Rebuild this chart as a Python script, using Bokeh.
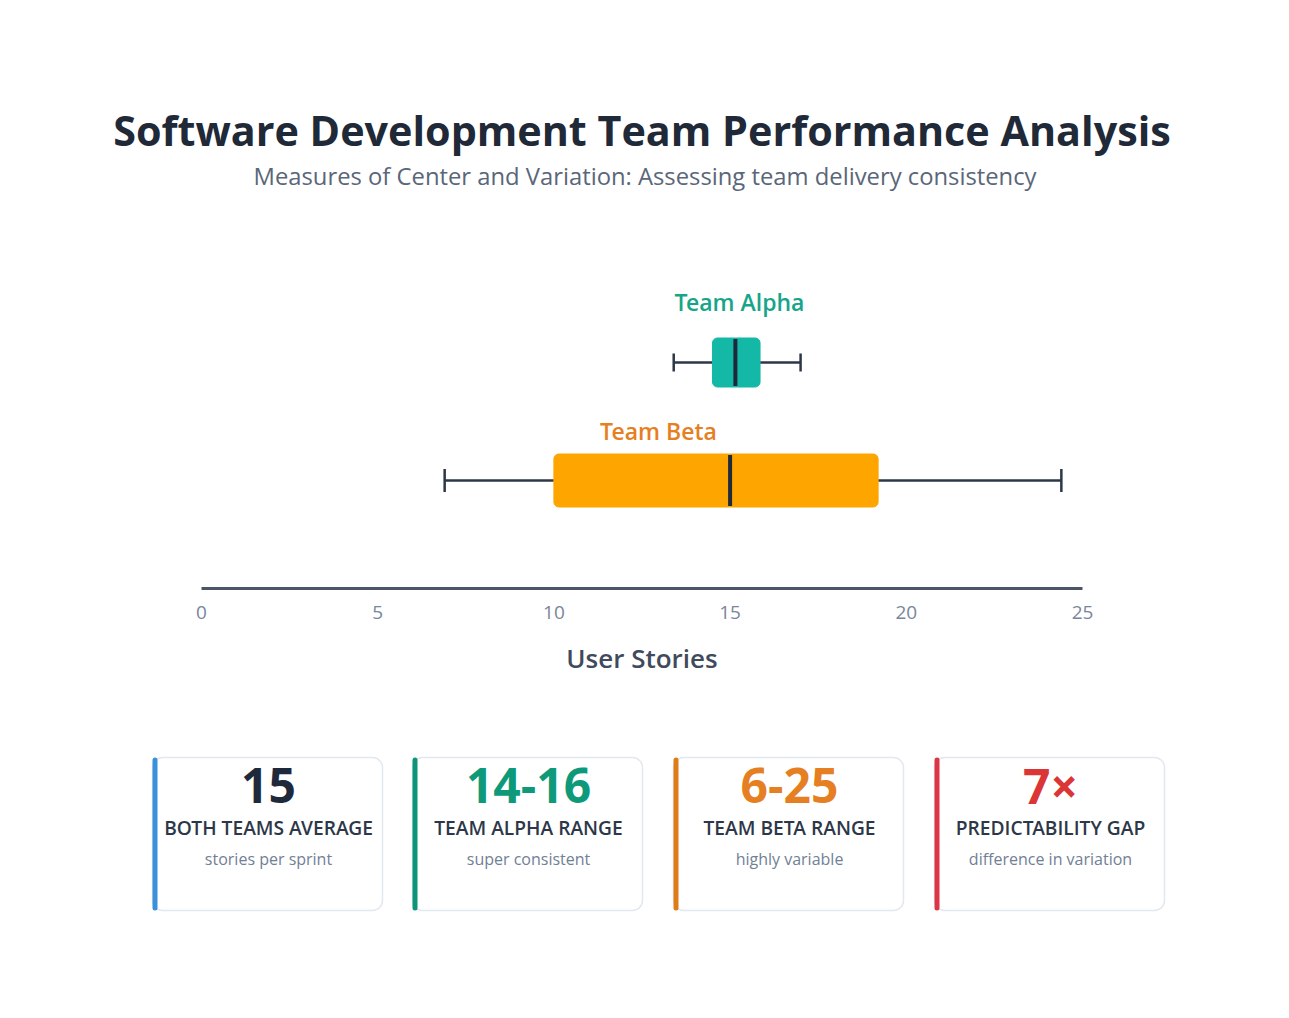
from bokeh.plotting import figure
from bokeh.models import Range1d
from bokeh.core.properties import value
from bokeh.embed import file_html
from bokeh.resources import INLINE

# ---------------- data ----------------
teams = ["Team Alpha", "Team Beta"]
mins = [13.4, 6.9]
q1s = [14.5, 10.0]
medians = [15.15, 15.0]
q3s = [15.85, 19.2]
maxs = [17.0, 24.4]
ticks = [0, 5, 10, 15, 20, 25]
axis_title = "User Stories"

card_values = ["15", "14-16", "6-25", "7×"]
card_labels = ["BOTH TEAMS AVERAGE", "TEAM ALPHA RANGE", "TEAM BETA RANGE", "PREDICTABILITY GAP"]
card_subs = ["stories per sprint", "super consistent", "highly variable", "difference in variation"]

title = "Software Development Team Performance Analysis"
subtitle = "Measures of Center and Variation: Assessing team delivery consistency"

# ---------------- layout / style ----------------
W, H = 1289, 1018
FONT = "Open Sans"
SEMI = "'Open Sans SemiBold', 'Open Sans'"
X0PX, X1PX = 201, 1082  # pixel positions of 0 and 25
scale = (X1PX - X0PX) / 25.0

team_y = [362, 480]
box_h = [49, 53]
cap_h = [18, 23]
box_colors = ["#14b8a6", "#ffa500"]
label_colors = ["#17a589", "#e67e22"]
label_px = [739, 658]
label_y = [301, 430]

card_left = [152, 412, 673, 934]
card_w = 230
card_top, card_bot = 757, 910
stripe_colors = ["#3b8fdb", "#0e9479", "#e07b1a", "#dc3545"]
value_colors = ["#1e293b", "#0e9a7a", "#e67e22", "#dc3535"]

p = figure(width=W, height=H, output_backend="svg", toolbar_location=None,
           x_range=Range1d(-X0PX / scale, (W - X0PX) / scale),
           y_range=Range1d(H, 0), min_border=0, outline_line_color=None)
p.extra_x_ranges = {"px": Range1d(0, W)}
p.axis.visible = False
p.grid.visible = False
p.background_fill_color = "white"
p.border_fill_color = "white"

# title
p.text(x=[W / 2 - 3], y=[129], text=[title], x_range_name="px", text_align="center",
       text_baseline="middle", text_font=value(FONT), text_font_style="bold",
       text_font_size="41.3px", text_color="#1f2937")
p.text(x=[W / 2], y=[175], text=[subtitle], x_range_name="px", text_align="center",
       text_baseline="middle", text_font=value(FONT),
       text_font_size="23.8px", text_color="#5a6679")

# box plots
for i in range(len(teams)):
    y = team_y[i]
    # whiskers
    p.segment(x0=[mins[i], q3s[i]], y0=[y, y], x1=[q1s[i], maxs[i]], y1=[y, y],
              line_color="#2d3748", line_width=2.5)
    p.segment(x0=[mins[i], maxs[i]], y0=[y - cap_h[i] / 2] * 2,
              x1=[mins[i], maxs[i]], y1=[y + cap_h[i] / 2] * 2,
              line_color="#2d3748", line_width=2.5)
    p.quad(left=[q1s[i]], right=[q3s[i]], top=[y - box_h[i] / 2], bottom=[y + box_h[i] / 2],
           fill_color=box_colors[i], line_color=box_colors[i], border_radius=5)
    p.segment(x0=[medians[i]], y0=[y - box_h[i] / 2 + 1], x1=[medians[i]], y1=[y + box_h[i] / 2 - 1],
              line_color="#1e293b", line_width=4)
    p.text(x=[label_px[i]], y=[label_y[i]], text=[teams[i]], x_range_name="px",
           text_align="center", text_baseline="middle", text_font=value(SEMI),
           text_font_size="23px", text_color=label_colors[i])

# axis
p.segment(x0=[ticks[0]], y0=[588], x1=[ticks[-1]], y1=[588], line_color="#4a5568", line_width=3)
p.text(x=ticks, y=[612] * len(ticks), text=[str(t) for t in ticks], text_align="center",
       text_baseline="middle", text_font=value(FONT), text_font_size="19px",
       text_color="#7a8699")
p.text(x=[(ticks[0] + ticks[-1]) / 2], y=[657], text=[axis_title], text_align="center",
       text_baseline="middle", text_font=value(SEMI), text_font_size="26px",
       text_color="#3f4a5c")

# cards
for i in range(4):
    l = card_left[i]
    cx = l + card_w / 2 + 1
    p.quad(left=[l], right=[l + card_w], top=[card_top], bottom=[card_bot], x_range_name="px",
           fill_color="white", line_color="#e2e8f0", line_width=1.5, border_radius=10)
    p.quad(left=[l], right=[l + 5], top=[card_top], bottom=[card_bot], x_range_name="px",
           fill_color=stripe_colors[i], line_color=None, border_radius=3)
    p.text(x=[cx], y=[785], text=[card_values[i]], x_range_name="px", text_align="center",
           text_baseline="middle", text_font=value(FONT), text_font_style="bold",
           text_font_size="48px", text_color=value_colors[i])
    p.text(x=[cx], y=[827], text=[card_labels[i]], x_range_name="px", text_align="center",
           text_baseline="middle", text_font=value(SEMI),
           text_font_size="19.2px", text_color="#2d3748")
    p.text(x=[cx], y=[858], text=[card_subs[i]], x_range_name="px", text_align="center",
           text_baseline="middle", text_font=value(FONT),
           text_font_size="16px", text_color="#718096")

open("out.html", "w").write(file_html(p, INLINE))
